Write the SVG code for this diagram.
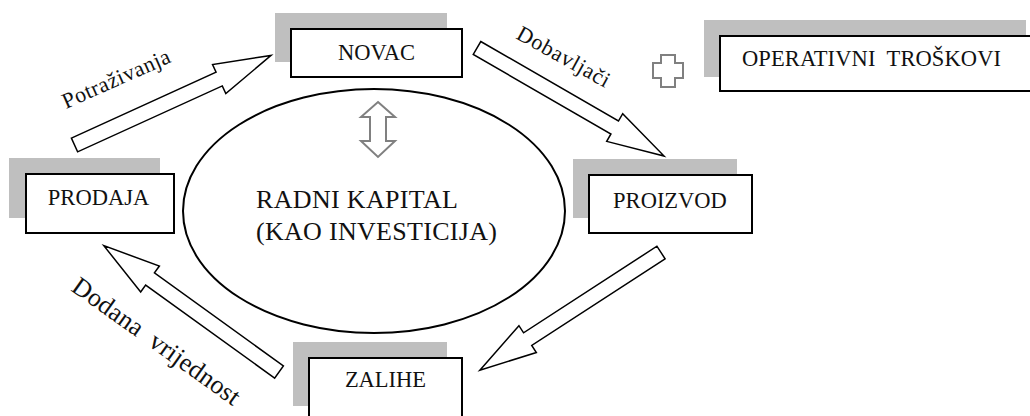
<svg xmlns="http://www.w3.org/2000/svg" xmlns:xlink="http://www.w3.org/1999/xlink" width="1030" height="416" viewBox="0 0 1030 416">
  <style>
    .shadow { fill: #bfbfbf; }
    .box { fill: #ffffff; stroke: #000000; stroke-width: 2; }
    .lbl { font-family: "Liberation Serif", "Times New Roman", serif; font-size: 22.5px; fill: #111111; text-anchor: middle; }
    .flow { font-family: "Liberation Serif", "Times New Roman", serif; font-size: 22px; fill: #111111; }
    .center { font-family: "Liberation Serif", "Times New Roman", serif; font-size: 26px; fill: #111111; }
    .arrow { fill: #ffffff; stroke: #000000; stroke-width: 1.5; stroke-linejoin: miter; }
    .grayicon { fill: #ffffff; stroke: #808080; stroke-width: 2; }
  </style>
  <defs>
    <polygon id="blockArrow" points="0,-7.5 159,-7.5 159,-16 216,0 159,16 159,7.5 0,7.5"/>
  </defs>
  <rect width="1030" height="416" fill="#ffffff"/>

  <g id="connectors">
    <use xlink:href="#blockArrow" class="arrow" transform="translate(74.5,145) rotate(-24.5)"/>
    <use xlink:href="#blockArrow" class="arrow" transform="translate(477,48) rotate(30)"/>
    <use xlink:href="#blockArrow" class="arrow" transform="translate(661,252.5) rotate(147)"/>
    <use xlink:href="#blockArrow" class="arrow" transform="translate(279,372) rotate(-144.2)"/>
    <text class="flow" transform="translate(66,109) rotate(-24)" textLength="116" lengthAdjust="spacing">Potraživanja</text>
    <text class="flow" transform="translate(515,38) rotate(29)" textLength="103" lengthAdjust="spacing">Dobavljači</text>
    <text class="flow" xml:space="preserve" style="font-size:26px" transform="translate(70,290) rotate(35.5)" textLength="200" lengthAdjust="spacing">Dodana  vrijednost</text>
  </g>

  <g id="center">
    <ellipse cx="374" cy="211" rx="191" ry="122" fill="#ffffff" stroke="#000000" stroke-width="2"/>
    <path class="grayicon" d="M378,102 L395,117 H386 V141 H395 L378,157 L361,141 H370 V117 H361 Z"/>
    <text class="center" x="256" y="208" textLength="202" lengthAdjust="spacing">RADNI KAPITAL</text>
    <text class="center" x="256" y="240" textLength="241" lengthAdjust="spacing">(KAO INVESTICIJA)</text>
  </g>

  <g id="novac">
    <rect class="shadow" x="275" y="13" width="172" height="49"/>
    <rect class="box" x="291" y="29" width="171" height="48"/>
    <text class="lbl" x="376.5" y="60">NOVAC</text>
  </g>

  <g id="prodaja">
    <rect class="shadow" x="9" y="158" width="151" height="60"/>
    <rect class="box" x="26" y="174" width="148" height="59"/>
    <text class="lbl" x="98.5" y="205">PRODAJA</text>
  </g>

  <g id="proizvod">
    <rect class="shadow" x="573" y="159" width="164" height="59"/>
    <rect class="box" x="589" y="175" width="163" height="58"/>
    <text class="lbl" x="670" y="208">PROIZVOD</text>
  </g>

  <g id="zalihe">
    <rect class="shadow" x="293" y="342" width="154" height="64"/>
    <rect class="box" x="309" y="358" width="153" height="70"/>
    <text class="lbl" x="385.5" y="387">ZALIHE</text>
  </g>

  <g id="plus">
    <path class="grayicon" d="M661,55 H675 V63 H683 V78 H675 V87 H661 V78 H653 V63 H661 Z"/>
  </g>

  <g id="operativni-troskovi">
    <rect class="shadow" x="704" y="20" width="322" height="57"/>
    <rect class="box" x="720" y="36" width="314" height="55"/>
    <text class="lbl" x="742" y="66" xml:space="preserve" style="text-anchor:start" textLength="259" lengthAdjust="spacing">OPERATIVNI  TROŠKOVI</text>
  </g>
</svg>
